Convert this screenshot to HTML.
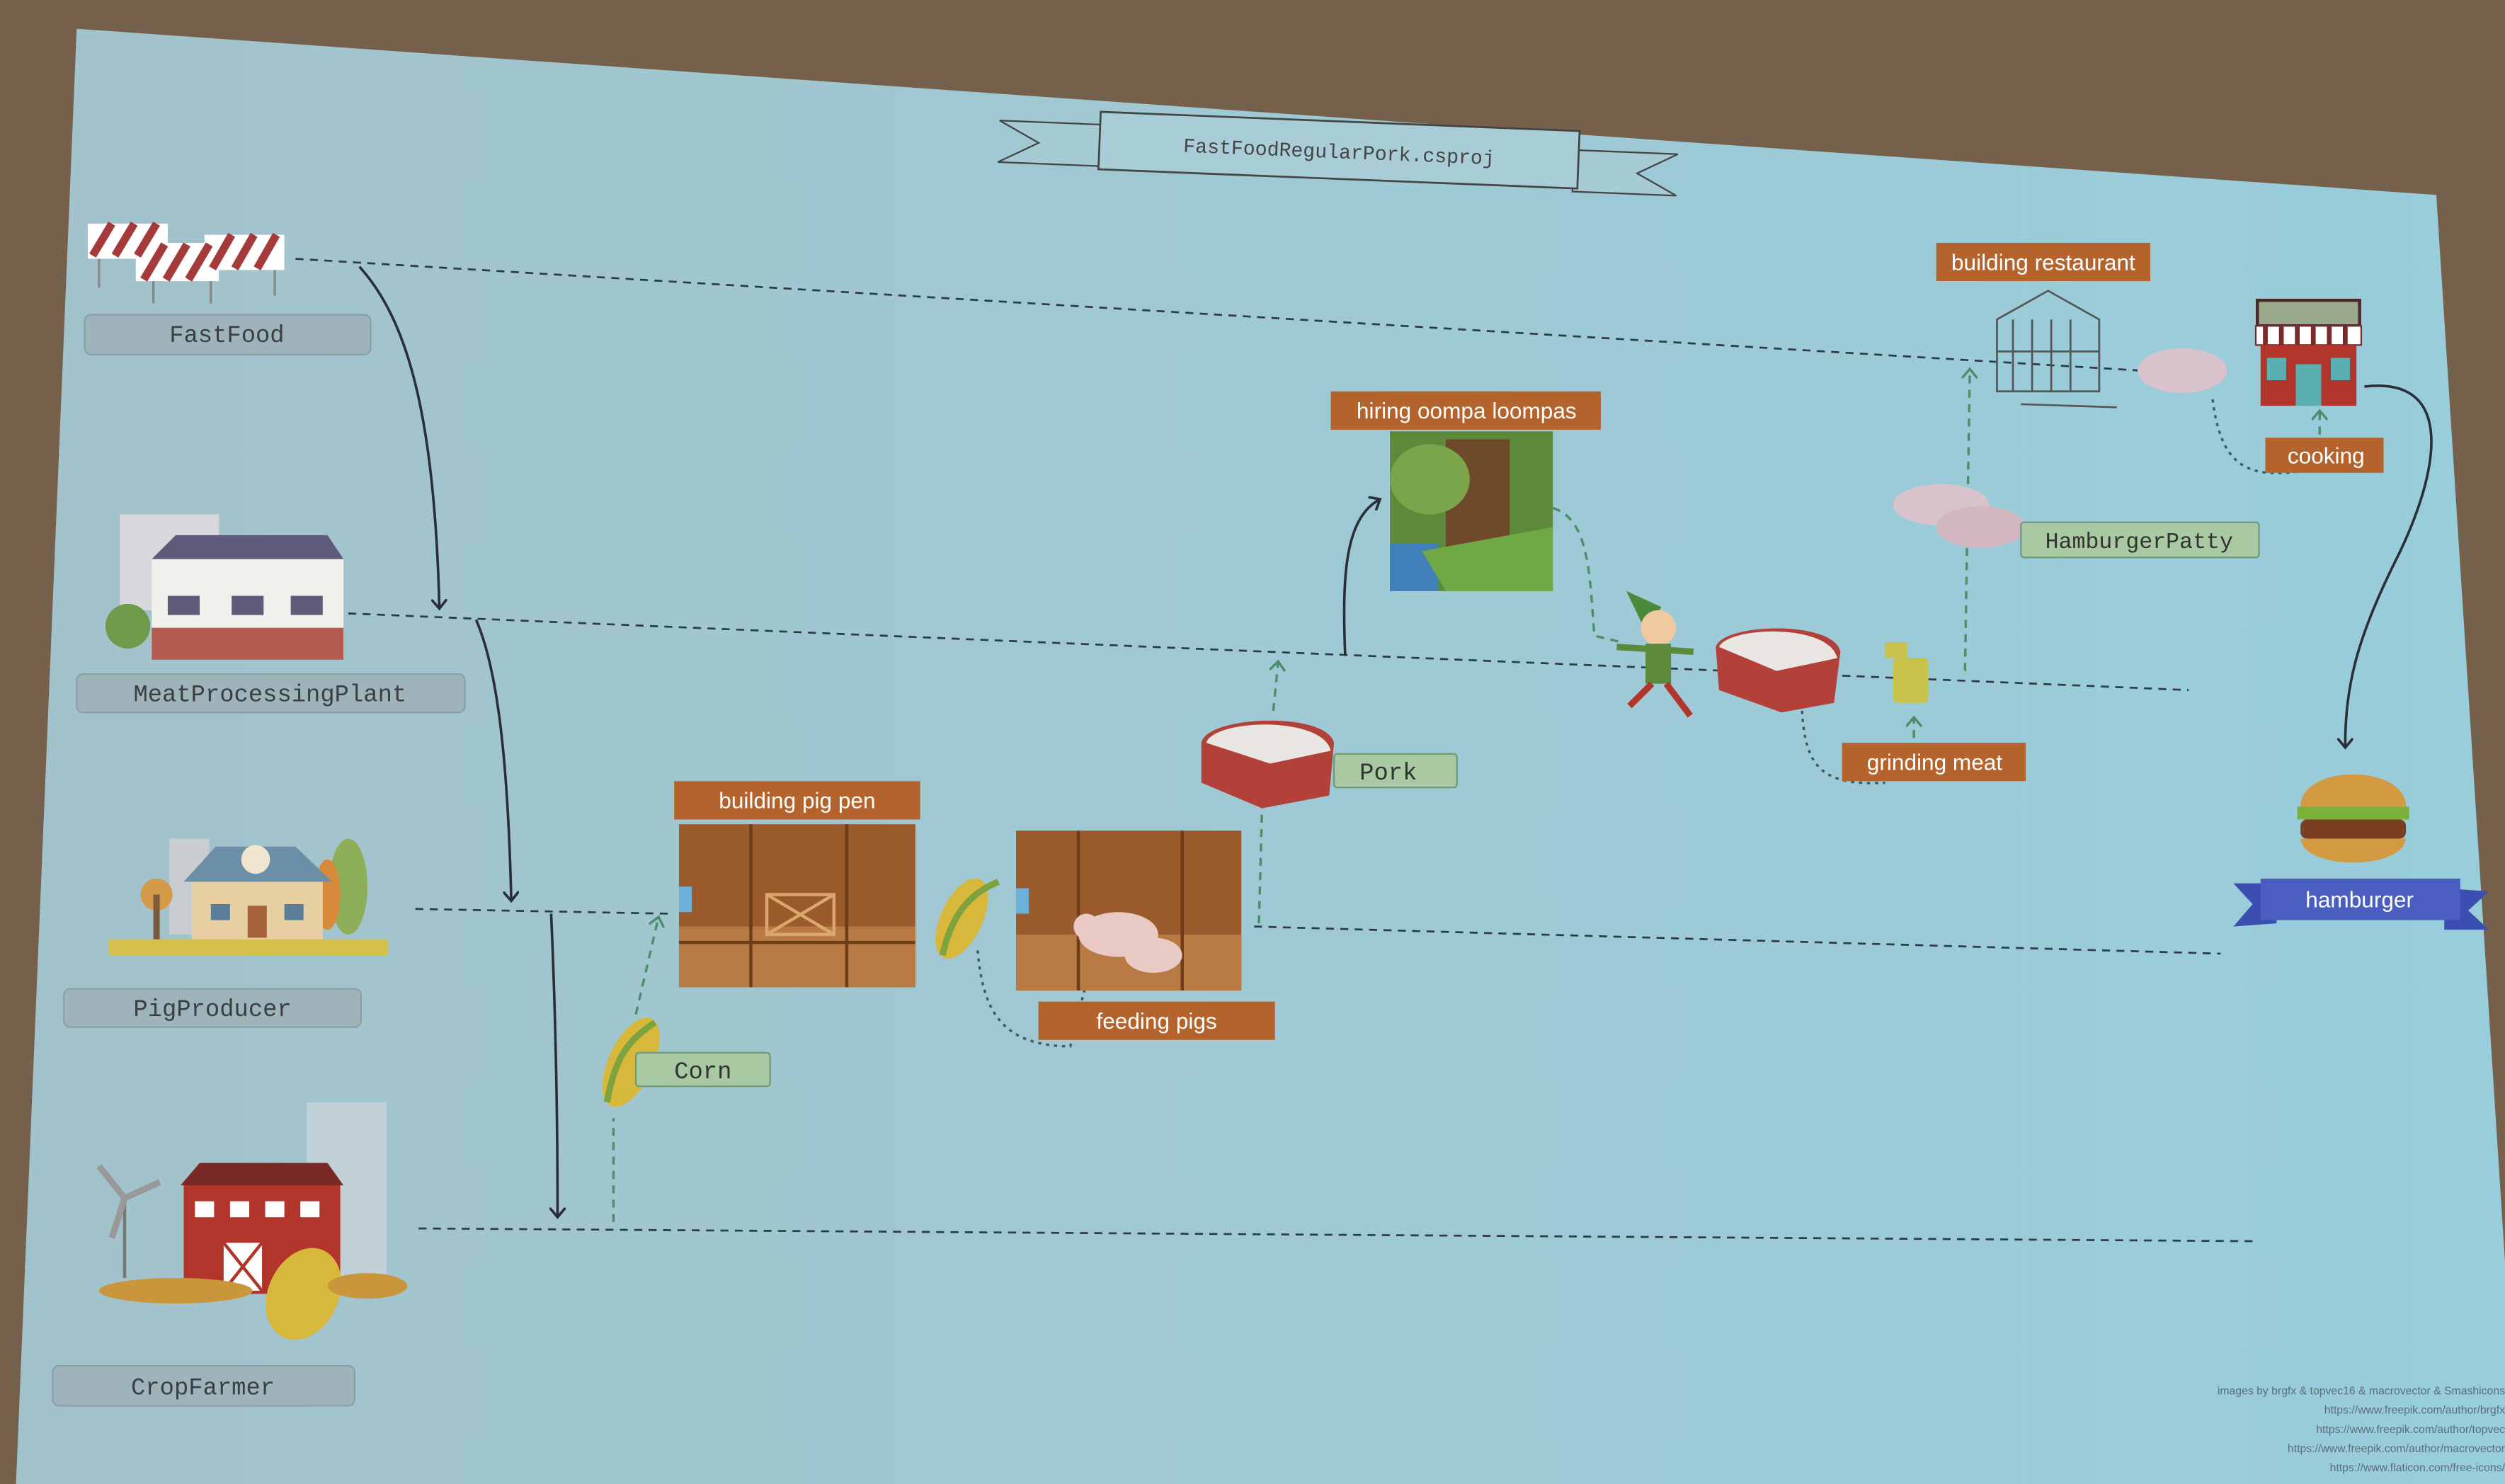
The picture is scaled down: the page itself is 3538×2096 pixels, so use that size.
<!DOCTYPE html>
<html><head><meta charset="utf-8"><style>
html,body{margin:0;padding:0;background:#75604b;}
svg{display:block}
.mono{font-family:"Liberation Mono",monospace;}
.sans{font-family:"Liberation Sans",sans-serif;}
</style></head><body>
<svg width="3538" height="2096" viewBox="0 0 1568 929" preserveAspectRatio="none" xmlns="http://www.w3.org/2000/svg">
<defs>
<linearGradient id="scr" x1="0" y1="0" x2="1" y2="0">
<stop offset="0" stop-color="#a2c2cb"/><stop offset="0.5" stop-color="#9fc9d4"/><stop offset="1" stop-color="#98cddb"/>
</linearGradient>
<marker id="ab" markerWidth="10" markerHeight="10" refX="5" refY="5" orient="auto" markerUnits="userSpaceOnUse"><path d="M0,0 L6,5 L0,10" fill="none" stroke="#2a2e38" stroke-width="1.6"/></marker>
<marker id="ag" markerWidth="10" markerHeight="10" refX="5" refY="5" orient="auto" markerUnits="userSpaceOnUse"><path d="M0,0 L6,5 L0,10" fill="none" stroke="#4e8c6a" stroke-width="1.5"/></marker>
</defs>
<rect width="1568" height="929" fill="#75604b"/>
<polygon points="48,18 1525,122 1568,790 1568,929 10,929" fill="url(#scr)"/>

<!-- title ribbon -->
<g transform="rotate(2.3 838 98)">
<polygon points="625,84 690,84 690,110 625,110 650,97" fill="#a7cbd4" stroke="#444" stroke-width="1"/>
<polygon points="985,88 1050,88 1025,101 1050,114 985,114" fill="#a7cbd4" stroke="#444" stroke-width="1"/>
<rect x="688" y="76" width="300" height="36" fill="#a9cdd6" stroke="#444" stroke-width="1.2"/>
<text x="838" y="99" class="mono" font-size="12.5" fill="#444" text-anchor="middle">FastFoodRegularPork.csproj</text>
</g>

<!-- lifelines -->
<g stroke="#2d3a48" stroke-width="1.2" stroke-dasharray="5,4" fill="none">
<line x1="185" y1="162" x2="1340" y2="232"/>
<line x1="218" y1="384" x2="1370" y2="432"/>
<line x1="260" y1="569" x2="420" y2="572"/>
<line x1="785" y1="580" x2="1390" y2="597"/>
<line x1="262" y1="769" x2="1410" y2="777"/>
</g>

<!-- left actor labels -->
<g class="mono" font-size="15" fill="#3a3f44" text-anchor="middle">
<rect x="53" y="197" width="179" height="25" rx="4" fill="#9fb3bb" stroke="#8aa0a8"/><text x="142" y="214">FastFood</text>
<rect x="48" y="422" width="243" height="24" rx="4" fill="#9fb3bb" stroke="#8aa0a8"/><text x="169" y="439">MeatProcessingPlant</text>
<rect x="40" y="619" width="186" height="24" rx="4" fill="#9fb3bb" stroke="#8aa0a8"/><text x="133" y="636">PigProducer</text>
<rect x="33" y="855" width="189" height="25" rx="4" fill="#9fb3bb" stroke="#8aa0a8"/><text x="127" y="873">CropFarmer</text>
</g>

<!-- barriers -->
<g>
<rect x="55" y="140" width="50" height="22" fill="#fff"/><rect x="85" y="152" width="52" height="24" fill="#fff"/><rect x="128" y="147" width="50" height="22" fill="#fff"/>
<g stroke="#a53a3a" stroke-width="5">
<line x1="58" y1="160" x2="70" y2="140"/><line x1="72" y1="160" x2="84" y2="140"/><line x1="86" y1="160" x2="98" y2="140"/>
<line x1="90" y1="175" x2="103" y2="153"/><line x1="104" y1="175" x2="117" y2="153"/><line x1="118" y1="175" x2="131" y2="153"/>
<line x1="133" y1="168" x2="145" y2="147"/><line x1="147" y1="168" x2="159" y2="147"/><line x1="161" y1="168" x2="173" y2="147"/>
</g>
<g stroke="#888" stroke-width="1.5"><line x1="62" y1="162" x2="62" y2="180"/><line x1="96" y1="176" x2="96" y2="190"/><line x1="132" y1="176" x2="132" y2="190"/><line x1="172" y1="169" x2="172" y2="185"/></g>
</g>

<!-- meat processing plant -->
<g>
<rect x="75" y="322" width="62" height="60" fill="#d8d8dc"/>
<rect x="95" y="350" width="120" height="62" fill="#f2f0ec"/>
<polygon points="95,350 110,335 205,335 215,350" fill="#5d5a7a"/>
<rect x="95" y="393" width="120" height="20" fill="#b55b4f"/>
<g fill="#5d5a7a"><rect x="105" y="373" width="20" height="12"/><rect x="145" y="373" width="20" height="12"/><rect x="182" y="373" width="20" height="12"/></g>
<circle cx="80" cy="392" r="14" fill="#6f9a4a"/>
</g>

<!-- pig producer farm -->
<g>
<rect x="106" y="525" width="25" height="60" fill="#c9cdd2"/>
<circle cx="98" cy="560" r="10" fill="#d49a48"/><rect x="96" y="560" width="4" height="30" fill="#7a5a3a"/>
<ellipse cx="218" cy="555" rx="12" ry="30" fill="#8fae58"/><ellipse cx="205" cy="560" rx="8" ry="22" fill="#d9893a"/>
<rect x="120" y="550" width="82" height="40" fill="#e8cfa2"/>
<polygon points="115,552 135,530 185,530 208,552" fill="#6c8ea6"/>
<circle cx="160" cy="538" r="9" fill="#f0e6d0"/>
<rect x="155" y="567" width="12" height="20" fill="#a4613a"/>
<rect x="132" y="566" width="12" height="10" fill="#5b7d97"/><rect x="178" y="566" width="12" height="10" fill="#5b7d97"/>
<rect x="68" y="588" width="175" height="10" fill="#d6c04c"/>
</g>

<!-- crop farmer -->
<g>
<rect x="192" y="690" width="50" height="110" fill="#c9d3d8" opacity="0.8"/>
<line x1="78" y1="750" x2="78" y2="800" stroke="#777" stroke-width="2"/>
<g stroke="#999" stroke-width="4"><line x1="78" y1="750" x2="62" y2="730"/><line x1="78" y1="750" x2="100" y2="740"/><line x1="78" y1="750" x2="70" y2="775"/></g>
<rect x="115" y="740" width="98" height="70" fill="#b2352c"/>
<polygon points="113,742 125,728 205,728 215,742" fill="#7a2a24"/>
<g fill="#fff"><rect x="122" y="752" width="12" height="10"/><rect x="144" y="752" width="12" height="10"/><rect x="166" y="752" width="12" height="10"/><rect x="188" y="752" width="12" height="10"/></g>
<rect x="140" y="778" width="24" height="30" fill="#fff"/><path d="M140,778 L164,808 M164,778 L140,808" stroke="#b2352c" stroke-width="2"/>
<ellipse cx="190" cy="810" rx="22" ry="30" fill="#d8b83a" transform="rotate(25 190 810)"/>
<ellipse cx="110" cy="808" rx="48" ry="8" fill="#c9963c"/>
<ellipse cx="230" cy="805" rx="25" ry="8" fill="#c9963c"/>
</g>

<!-- black flow arrows -->
<g stroke="#2a2e38" stroke-width="1.6" fill="none">
<path d="M225,167 C255,200 272,260 275,380" marker-end="url(#ab)"/>
<path d="M298,388 C312,420 318,480 320,563" marker-end="url(#ab)"/>
<path d="M345,572 C348,640 349,700 349,761" marker-end="url(#ab)"/>
<path d="M842,410 C840,360 842,325 863,313" marker-end="url(#ab)"/>
<path d="M1480,242 C1540,235 1525,300 1500,350 C1475,400 1468,430 1468,467" marker-end="url(#ab)"/>
</g>

<!-- green dashed arrows -->
<g stroke="#4e8c6a" stroke-width="1.5" stroke-dasharray="5,4" fill="none">
<line x1="384" y1="765" x2="384" y2="700"/>
<path d="M398,635 L412,575" marker-end="url(#ag)"/>
<line x1="788" y1="578" x2="790" y2="505"/>
<path d="M797,445 L800,415" marker-end="url(#ag)"/>
<path d="M1230,420 L1233,232" marker-end="url(#ag)"/>
<path d="M1198,462 L1198,450" marker-end="url(#ag)"/>
<path d="M1452,272 L1452,258" marker-end="url(#ag)"/>
<path d="M972,318 C995,325 995,360 998,398 L1015,402" />
</g>
<g stroke="#3c5a62" stroke-width="1.5" stroke-dasharray="2,3" fill="none">
<path d="M612,595 C615,630 625,655 670,655 L680,615"/>
<path d="M1128,445 C1130,480 1140,492 1180,490"/>
<path d="M1385,250 C1390,290 1405,300 1440,295"/>
</g>

<!-- corn -->
<g><ellipse cx="395" cy="665" rx="14" ry="30" fill="#d8b83a" transform="rotate(25 395 665)"/><path d="M380,690 C385,660 395,650 410,640" stroke="#7ea33e" stroke-width="4" fill="none"/></g>
<rect x="398" y="659" width="84" height="21" rx="2" fill="#a9c9a2" stroke="#6c9a7a"/><text x="440" y="675" class="mono" font-size="15" fill="#333" text-anchor="middle">Corn</text>

<!-- orange labels -->
<g class="sans" font-size="14" fill="#fff" text-anchor="middle">
<rect x="422" y="489" width="154" height="24" fill="#b5632d"/><text x="499" y="506">building pig pen</text>
<rect x="650" y="627" width="148" height="24" fill="#b5632d"/><text x="724" y="644">feeding pigs</text>
<rect x="833" y="245" width="169" height="24" fill="#b5632d"/><text x="918" y="262">hiring oompa loompas</text>
<rect x="1153" y="465" width="115" height="24" fill="#b5632d"/><text x="1211" y="482">grinding meat</text>
<rect x="1212" y="152" width="134" height="24" fill="#b5632d"/><text x="1279" y="169">building restaurant</text>
<rect x="1418" y="274" width="74" height="22" fill="#b5632d"/><text x="1456" y="290">cooking</text>
</g>

<!-- pig pen barn -->
<rect x="425" y="516" width="148" height="102" fill="#9a5a2c"/>
<rect x="425" y="580" width="148" height="38" fill="#b87a42"/>
<g stroke="#6d3c1a" stroke-width="2"><line x1="470" y1="516" x2="470" y2="618"/><line x1="530" y1="516" x2="530" y2="618"/><line x1="425" y1="590" x2="573" y2="590"/></g>
<rect x="480" y="560" width="42" height="25" fill="none" stroke="#d9a86a" stroke-width="2"/><path d="M480,560 L522,585 M522,560 L480,585" stroke="#d9a86a" stroke-width="2"/>
<rect x="425" y="555" width="8" height="16" fill="#6ab0d8"/>

<!-- corn 2 -->
<ellipse cx="602" cy="575" rx="13" ry="27" fill="#d8b83a" transform="rotate(25 602 575)"/>
<path d="M590,598 C595,575 605,560 625,552" stroke="#7ea33e" stroke-width="4" fill="none"/>

<!-- pigs barn -->
<rect x="636" y="520" width="141" height="100" fill="#9a5a2c"/>
<rect x="636" y="585" width="141" height="35" fill="#b87a42"/>
<g stroke="#6d3c1a" stroke-width="2"><line x1="675" y1="520" x2="675" y2="620"/><line x1="740" y1="520" x2="740" y2="620"/></g>
<ellipse cx="700" cy="585" rx="25" ry="14" fill="#e9c9c4"/><ellipse cx="722" cy="598" rx="18" ry="11" fill="#e9c9c4"/><circle cx="680" cy="580" r="8" fill="#e9c9c4"/>
<rect x="636" y="556" width="8" height="16" fill="#6ab0d8"/>

<!-- pork -->
<path d="M752,465 C755,448 830,445 835,465 L832,498 L790,506 L752,490 Z" fill="#b2413a"/>
<path d="M755,465 C760,450 828,448 833,470 L795,478 Z" fill="#e9e6e4"/>
<rect x="835" y="472" width="77" height="21" rx="2" fill="#a9c9a2" stroke="#6c9a7a"/><text x="869" y="488" class="mono" font-size="15" fill="#333" text-anchor="middle">Pork</text>

<!-- jungle -->
<rect x="870" y="270" width="102" height="100" fill="#5d8a3a"/>
<rect x="905" y="275" width="40" height="70" fill="#6e4a2a"/>
<ellipse cx="895" cy="300" rx="25" ry="22" fill="#7aa54a"/>
<rect x="870" y="340" width="30" height="30" fill="#3f7fba"/>
<polygon points="890,345 972,330 972,370 905,370" fill="#6fa844"/>

<!-- elf -->
<polygon points="1018,370 1040,380 1030,395" fill="#4c8a3a"/>
<circle cx="1038" cy="393" r="11" fill="#f1c9a0"/>
<rect x="1030" y="403" width="16" height="25" fill="#5d8a3a"/>
<line x1="1012" y1="405" x2="1060" y2="408" stroke="#5d8a3a" stroke-width="4"/>
<path d="M1034,428 L1020,442 M1043,428 L1058,448" stroke="#b2352c" stroke-width="4"/>

<!-- meat 2 -->
<path d="M1074,405 C1078,390 1148,388 1152,408 L1148,440 L1115,446 L1076,432 Z" fill="#b2413a"/>
<path d="M1076,405 C1082,392 1145,390 1150,412 L1112,420 Z" fill="#e9e6e4"/>

<!-- grinder -->
<rect x="1185" y="412" width="22" height="28" rx="3" fill="#c9c24a"/><rect x="1180" y="402" width="14" height="10" fill="#c9c24a"/>

<!-- hamburger patties -->
<ellipse cx="1215" cy="316" rx="30" ry="13" fill="#d8c3cc"/>
<ellipse cx="1240" cy="330" rx="28" ry="13" fill="#d2b7c3"/>
<rect x="1265" y="327" width="149" height="22" rx="2" fill="#a9c9a2" stroke="#6c9a7a"/><text x="1339" y="343" class="mono" font-size="14" fill="#333" text-anchor="middle">HamburgerPatty</text>

<!-- greenhouse -->
<g stroke="#555" stroke-width="1.2" fill="none">
<polygon points="1250,200 1282,182 1314,200 1314,245 1250,245"/>
<line x1="1260" y1="200" x2="1260" y2="245"/><line x1="1272" y1="200" x2="1272" y2="245"/><line x1="1284" y1="200" x2="1284" y2="245"/><line x1="1296" y1="200" x2="1296" y2="245"/>
<line x1="1250" y1="220" x2="1314" y2="220"/><line x1="1265" y1="253" x2="1325" y2="255"/>
</g>
<ellipse cx="1366" cy="232" rx="28" ry="14" fill="#d8c3cc"/>

<!-- store -->
<rect x="1413" y="188" width="64" height="16" fill="#9aa98c" stroke="#4a2a2a" stroke-width="2"/>
<rect x="1412" y="204" width="66" height="12" fill="#fff" stroke="#7a2a2a"/>
<g stroke="#7a2a2a" stroke-width="3"><line x1="1418" y1="204" x2="1418" y2="216"/><line x1="1428" y1="204" x2="1428" y2="216"/><line x1="1438" y1="204" x2="1438" y2="216"/><line x1="1448" y1="204" x2="1448" y2="216"/><line x1="1458" y1="204" x2="1458" y2="216"/><line x1="1468" y1="204" x2="1468" y2="216"/></g>
<rect x="1415" y="216" width="60" height="38" fill="#b2352c"/>
<rect x="1419" y="224" width="12" height="14" fill="#5ab0b0"/><rect x="1459" y="224" width="12" height="14" fill="#5ab0b0"/><rect x="1437" y="228" width="16" height="26" fill="#5ab0b0"/>

<!-- hamburger -->
<path d="M1440,505 C1440,478 1506,478 1506,505 Z" fill="#d39a42"/>
<rect x="1438" y="505" width="70" height="8" fill="#7bb03a"/>
<rect x="1440" y="513" width="66" height="12" rx="4" fill="#7a3e22"/>
<path d="M1440,525 L1506,525 C1504,545 1442,545 1440,525 Z" fill="#d39a42"/>

<!-- hamburger ribbon -->
<polygon points="1398,553 1425,553 1425,578 1398,580 1410,566" fill="#3b4fb0"/>
<polygon points="1530,556 1558,558 1545,570 1558,582 1530,582" fill="#3b4fb0"/>
<rect x="1415" y="550" width="125" height="26" fill="#4a5ec0"/>
<text x="1477" y="568" class="sans" font-size="14" fill="#fff" text-anchor="middle">hamburger</text>

<!-- credits -->
<g class="sans" font-size="7" fill="#5a6e7a" text-anchor="end">
<text x="1568" y="873">images by brgfx &amp; topvec16 &amp; macrovector &amp; Smashicons</text>
<text x="1568" y="885">https://www.freepik.com/author/brgfx</text>
<text x="1568" y="897">https://www.freepik.com/author/topvec</text>
<text x="1568" y="909">https://www.freepik.com/author/macrovector</text>
<text x="1568" y="921">https://www.flaticon.com/free-icons/</text>
</g>
</svg>
</body></html>
